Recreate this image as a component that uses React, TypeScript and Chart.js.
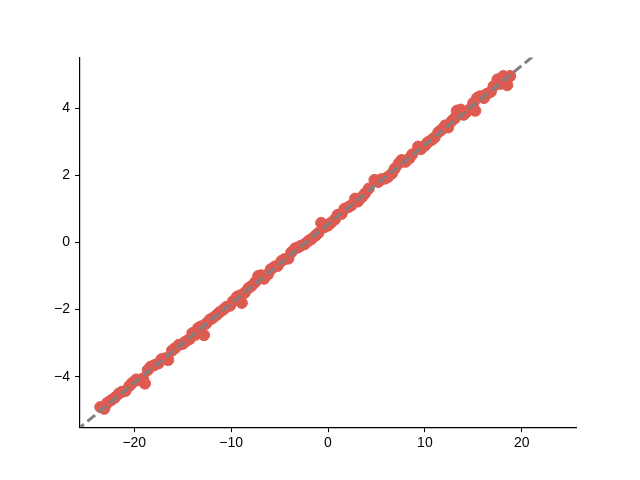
import React, { useEffect, useRef } from "react";
import { Chart, registerables } from "chart.js";

Chart.register(...registerables);

// Scatter data
const pointX = [
  -23.5, -23.1, -22.8, -22.4, -22.0, -21.6, -21.3, -20.9, -20.5, -20.2,
  -19.8, -19.5, -19.1, -18.9, -18.6, -18.3, -17.9, -17.5, -17.2, -16.8,
  -16.5, -16.1, -15.8, -15.4, -15.0, -14.7, -14.3, -14.0, -13.7, -13.4,
  -13.1, -12.8, -12.6, -12.2, -11.9, -11.5, -11.2, -10.8, -10.5, -10.1,
  -9.8, -9.4, -9.1, -8.9, -8.6, -8.2, -7.9, -7.5, -7.2, -6.9,
  -6.6, -6.2, -5.9, -5.5, -5.2, -4.8, -4.5, -4.1, -3.8, -3.4,
  -3.1, -2.8, -2.4, -2.0, -1.7, -1.3, -1.0, -0.7, -0.4, 0.0,
  0.3, 0.7, 1.0, 1.4, 1.7, 2.1, 2.4, 2.8, 3.1, 3.5,
  3.8, 4.2, 4.8, 5.2, 5.5, 5.9, 6.2, 6.6, 6.9, 7.3,
  7.6, 8.0, 8.4, 8.7, 9.3, 9.6, 10.0, 10.3, 10.7, 11.0,
  11.4, 11.7, 12.1, 12.4, 12.8, 13.1, 13.3, 13.7, 14.0, 14.3,
  14.7, 15.0, 15.2, 15.4, 15.7, 16.1, 16.4, 16.8, 17.1, 17.5,
  17.8, 18.1, 18.5, 18.8,
];
const pointY = [
  -4.90, -4.95, -4.78, -4.70, -4.62, -4.50, -4.45, -4.42, -4.27, -4.18,
  -4.08, -4.10, -4.05, -4.20, -3.80, -3.70, -3.65, -3.60, -3.48, -3.45,
  -3.50, -3.22, -3.15, -3.05, -3.02, -2.95, -2.88, -2.70, -2.75, -2.55,
  -2.50, -2.76, -2.42, -2.30, -2.25, -2.16, -2.08, -2.00, -1.92, -1.88,
  -1.75, -1.62, -1.58, -1.80, -1.50, -1.36, -1.30, -1.18, -1.00, -0.98,
  -1.08, -0.95, -0.80, -0.72, -0.70, -0.55, -0.50, -0.48, -0.30, -0.18,
  -0.15, -0.10, -0.05, 0.05, 0.10, 0.20, 0.28, 0.58, 0.45, 0.50,
  0.58, 0.68, 0.82, 0.85, 1.00, 1.05, 1.10, 1.30, 1.22, 1.35,
  1.45, 1.60, 1.86, 1.80, 1.88, 1.90, 1.95, 2.05, 2.20, 2.35,
  2.45, 2.40, 2.50, 2.62, 2.85, 2.78, 2.88, 2.98, 3.05, 3.12,
  3.28, 3.35, 3.48, 3.42, 3.62, 3.70, 3.92, 3.95, 3.80, 3.88,
  3.98, 4.15, 3.92, 4.30, 4.35, 4.30, 4.42, 4.48, 4.65, 4.85,
  4.72, 4.95, 4.68, 4.95,
];

// Dashed fit line endpoints
const lineX = [-26, 26];
const lineY = [-5.6, 6.68];

const xTicks = [-20, -10, 0, 10, 20];
const yTicks = [-4, -2, 0, 2, 4];
const xLimits = [-25.6, 25.6];
const yLimits = [-5.5, 5.5];

const fmt = (v: number) => (v < 0 ? "\u2212" + Math.abs(v) : String(v));

export default function App() {
  const ref = useRef<HTMLCanvasElement | null>(null);
  useEffect(() => {
    if (!ref.current) return;
    const font = { family: "'Liberation Sans', Arial, sans-serif", size: 14 };
    const chart = new Chart(ref.current, {
      type: "scatter",
      data: {
        datasets: [
          {
            type: "line",
            data: lineX.map((x, i) => ({ x, y: lineY[i] })),
            borderColor: "#808080",
            borderWidth: 3,
            borderDash: [10, 4.5],
            pointRadius: 0,
            fill: false,
            clip: 0,
            order: 0,
          } as any,
          {
            type: "scatter",
            data: pointX.map((x, i) => ({ x, y: pointY[i] })),
            backgroundColor: "#de5b51",
            borderColor: "#de5b51",
            borderWidth: 1,
            pointRadius: 5.6,
            clip: 0,
            order: 1,
          } as any,
        ],
      },
      options: {
        animation: false,
        responsive: false,
        maintainAspectRatio: false,
        layout: { padding: { top: 57.6, right: 64, left: 0, bottom: 0 } },
        plugins: { legend: { display: false }, tooltip: { enabled: false } },
        scales: {
          x: {
            type: "linear",
            min: xLimits[0],
            max: xLimits[1],
            afterBuildTicks: (s: any) => {
              s.ticks = xTicks.map((v) => ({ value: v }));
            },
            afterFit: (s: any) => {
              s.height = 480 - 427.2;
            },
            grid: {
              display: true,
              drawOnChartArea: false,
              drawTicks: true,
              tickLength: 5,
              tickColor: "#000",
              tickWidth: 1,
            },
            border: { display: true, color: "#000", width: 1.2 },
            ticks: {
              color: "#000",
              font,
              padding: 3,
              maxRotation: 0,
              callback: (v: any) => fmt(Number(v)),
            },
          },
          y: {
            type: "linear",
            min: yLimits[0],
            max: yLimits[1],
            afterBuildTicks: (s: any) => {
              s.ticks = yTicks.map((v) => ({ value: v }));
            },
            afterFit: (s: any) => {
              s.width = 80;
            },
            grid: {
              display: true,
              drawOnChartArea: false,
              drawTicks: true,
              tickLength: 5,
              tickColor: "#000",
              tickWidth: 1,
            },
            border: { display: true, color: "#000", width: 1.2 },
            ticks: {
              color: "#000",
              font,
              padding: 5,
              callback: (v: any) => fmt(Number(v)),
            },
          },
        },
      },
    });
    return () => chart.destroy();
  }, []);
  return (
    <div style={{ position: "fixed", left: 0, top: 0, width: 640, height: 480, background: "#fff" }}>
      <canvas ref={ref} width={640} height={480} style={{ width: 640, height: 480 }} />
    </div>
  );
}
